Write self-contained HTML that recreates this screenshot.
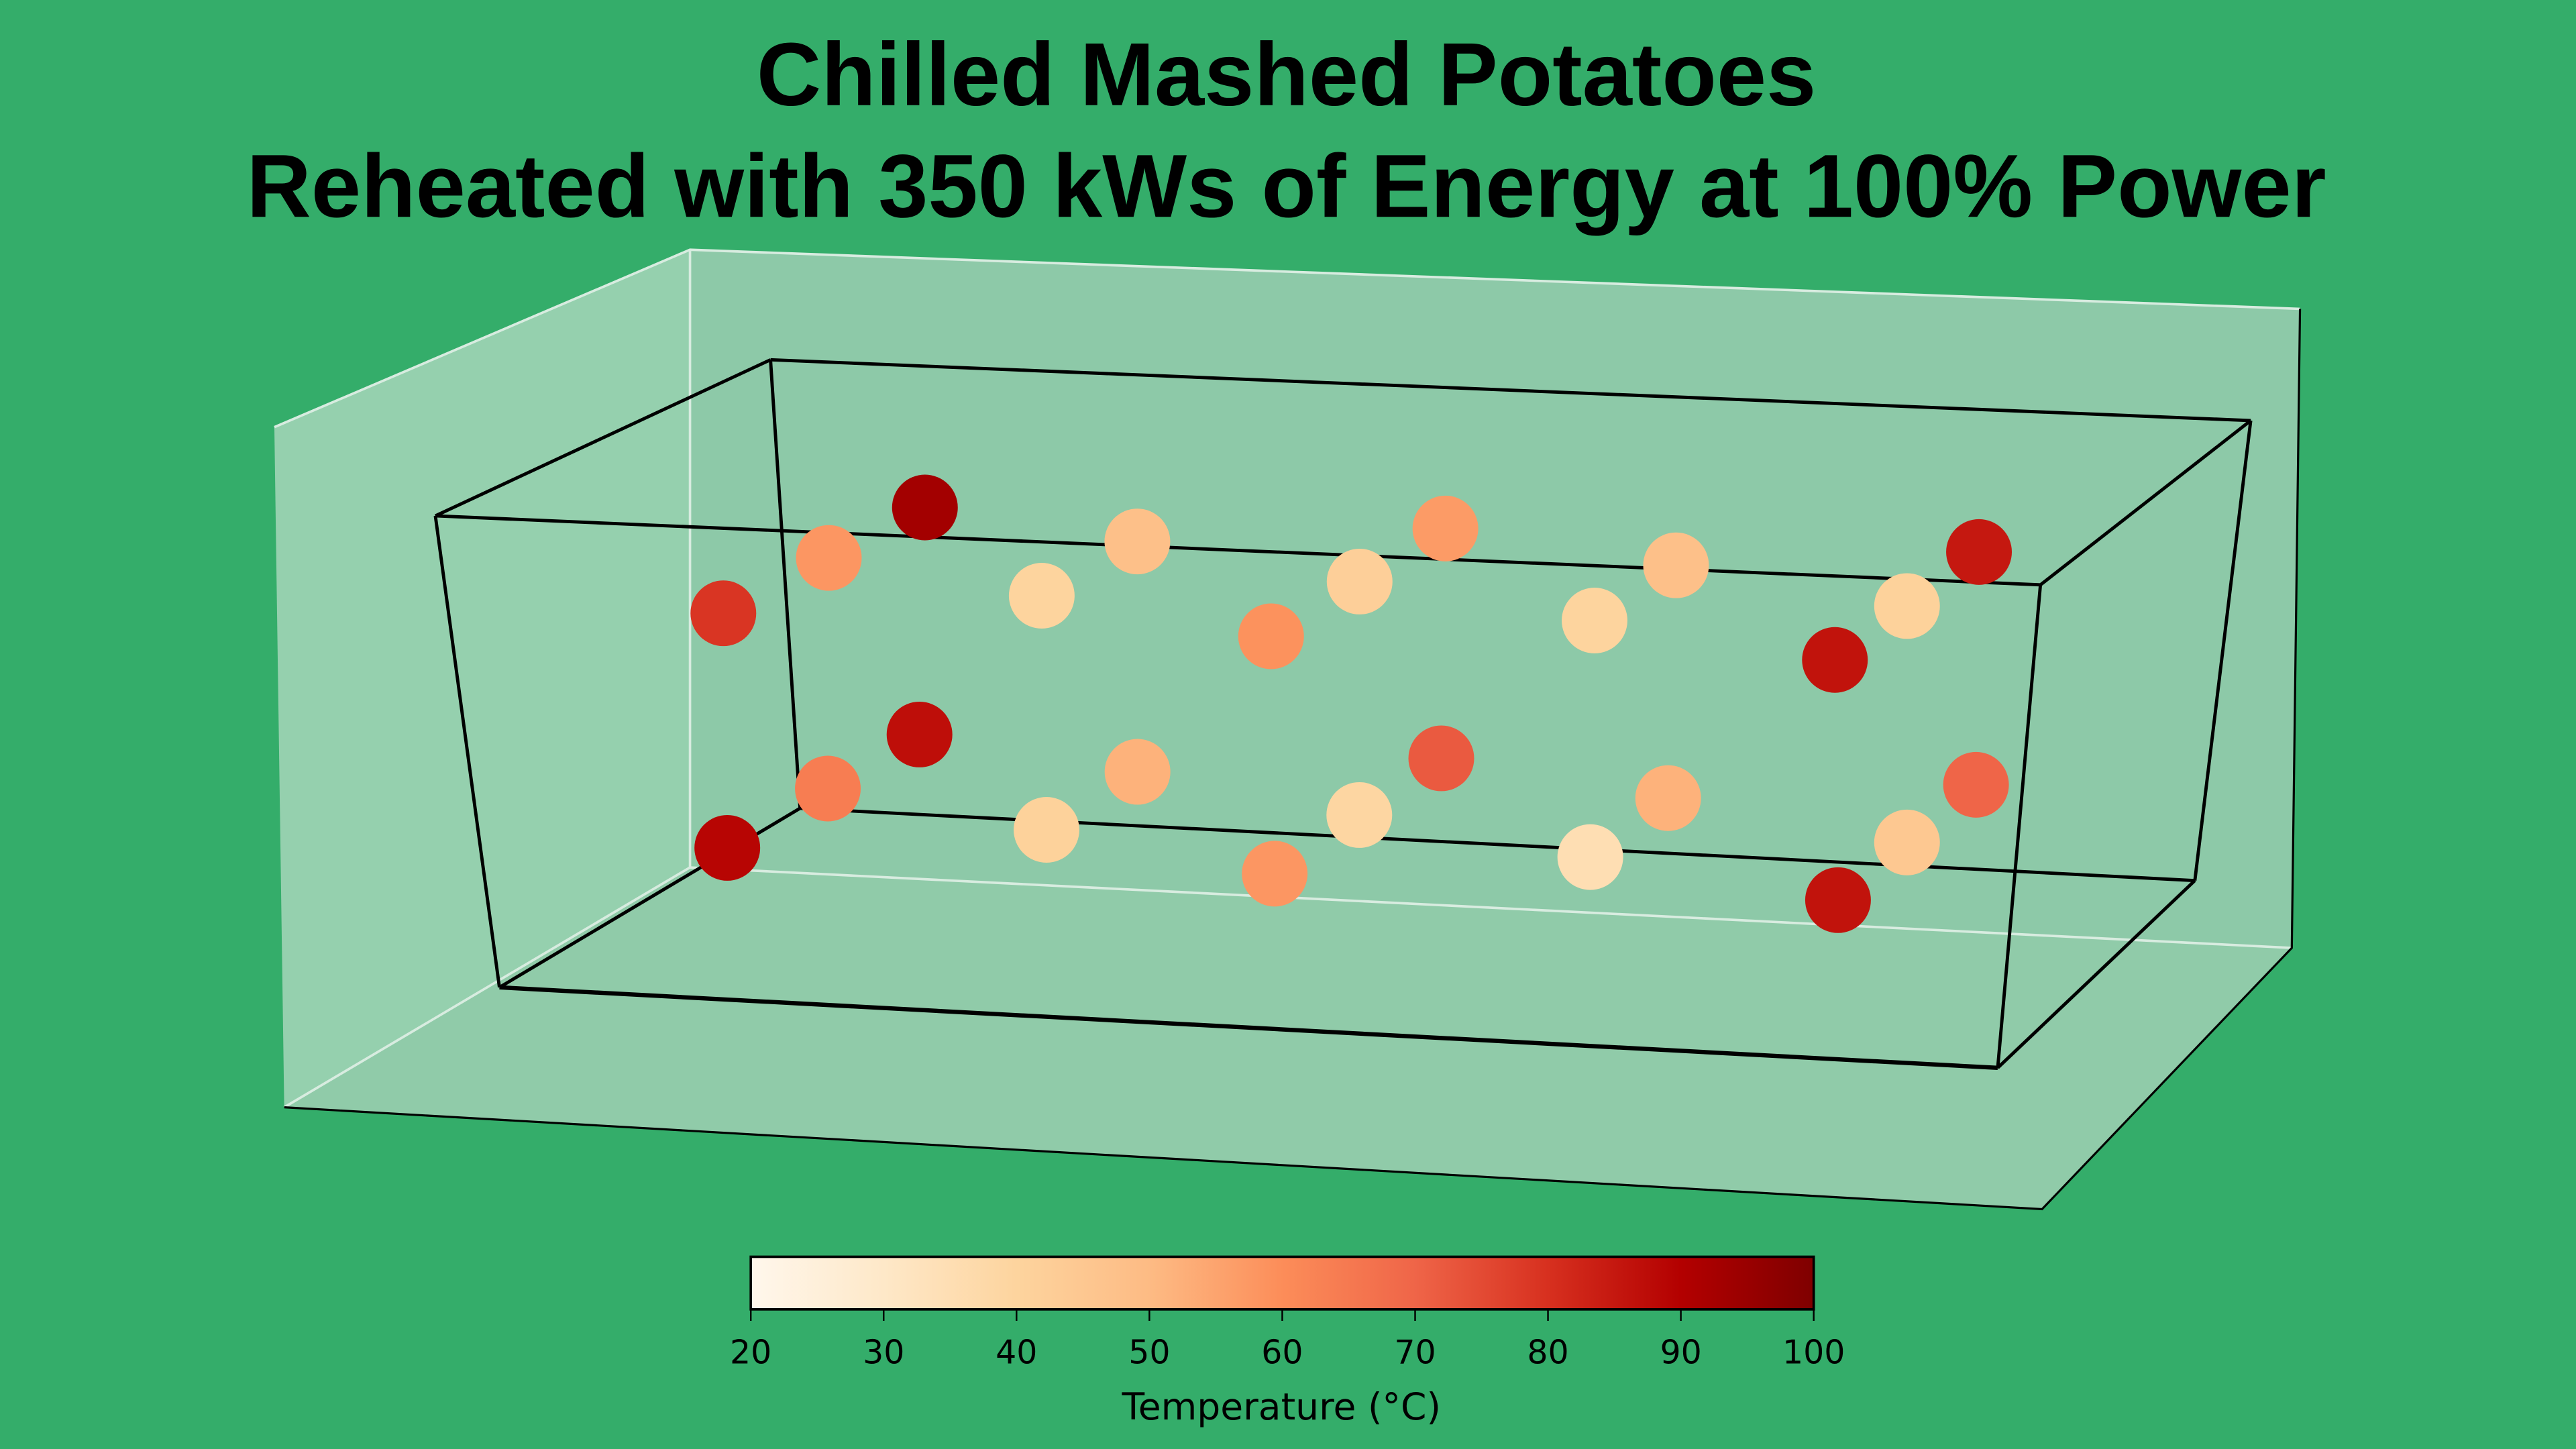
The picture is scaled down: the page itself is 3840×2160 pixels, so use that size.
<!DOCTYPE html>
<html><head><meta charset="utf-8"><style>
html,body{margin:0;padding:0;background:#34ad6a;}
svg{display:block;}
text{font-family:"DejaVu Sans","Liberation Sans",sans-serif;}
</style></head><body>
<svg id="chart" width="3840" height="2160" viewBox="0 0 1568 882" xmlns="http://www.w3.org/2000/svg">
<defs>
<linearGradient id="orrd" x1="0" x2="1" y1="0" y2="0">
<stop offset="0" stop-color="#fff7ec"/><stop offset="0.125" stop-color="#fee8c8"/><stop offset="0.25" stop-color="#fdd49e"/><stop offset="0.375" stop-color="#fdbb84"/><stop offset="0.5" stop-color="#fc8d59"/><stop offset="0.625" stop-color="#ef6548"/><stop offset="0.75" stop-color="#d7301f"/><stop offset="0.875" stop-color="#b30000"/><stop offset="1" stop-color="#7f0000"/>
</linearGradient>
</defs>
<rect width="1568" height="882" fill="#34ad6a"/>
<text x="783" y="64" text-anchor="middle" font-size="54.5" font-weight="bold" style="font-family:'Liberation Sans',sans-serif">Chilled Mashed Potatoes</text>
<text x="783" y="132" text-anchor="middle" font-size="54.5" font-weight="bold" style="font-family:'Liberation Sans',sans-serif">Reheated with 350 kWs of Energy at 100% Power</text>
<polygon points="167,260 420,152 420,528 173,674" fill="#95d0ae"/>
<polygon points="420,152 1400,188 1395,577 420,528" fill="#8dc9a8"/>
<polygon points="173,674 420,528 1395,577 1243,736" fill="#90cba9"/>
<g stroke="#d8ece0" stroke-width="1.5" fill="none">
<polyline points="167,260 420,152 1400,188"/>
<line x1="420" y1="152" x2="420" y2="528"/>
<polyline points="173,674 420,528 1395,577"/>
</g>
<g stroke="#000" stroke-width="1.3" fill="none">
<polyline points="173,674 1243,736 1395,577 1400,188"/>
</g>
<g id="box" stroke="#000" stroke-width="2" fill="none"></g>
<g id="points"></g>
<rect x="457" y="765" width="647" height="32" fill="url(#orrd)" stroke="#000" stroke-width="1.5"/>
<g id="cbticks"></g>
<text x="780" y="864" text-anchor="middle" font-size="22.5">Temperature (°C)</text>
</svg>
<script>
const xsBot = [0.125,0.125,0.125, 0.304,0.304, 0.487,0.487,0.487, 0.67,0.67, 0.86,0.86,0.86];
const xsTop = [0.137,0.137,0.137, 0.308,0.308, 0.487,0.487,0.487, 0.668,0.668, 0.848,0.848,0.848];
const ys   = [0.18,0.52,0.83, 0.36,0.69, 0.19,0.52,0.84, 0.36,0.69, 0.20,0.52,0.84];
const zTop = 0.752;
const zBot = 0.25;
const tempTop = [79,58,93,40,48,59,42,57,40,48,86,41,85];
const tempBot = [89,64,87,41,52,58,39,72,35,52,86,45,70];
const ticks = [20,30,40,50,60,70,80,90,100];

const NS='http://www.w3.org/2000/svg';
const C={"000":[304,601],"100":[1216,650],"010":[487,492],"110":[1336,536],"001":[265,314],"101":[1242,356],"011":[469,219],"111":[1370,256]};
function lerp(a,b,t){return [a[0]+(b[0]-a[0])*t,a[1]+(b[1]-a[1])*t];}
function proj(x,y,z){
  const b0=lerp(C["000"],C["100"],x), b1=lerp(C["010"],C["110"],x);
  const t0=lerp(C["001"],C["101"],x), t1=lerp(C["011"],C["111"],x);
  return lerp(lerp(b0,b1,y),lerp(t0,t1,y),z);
}
const stops=["#fff7ec","#fee8c8","#fdd49e","#fdbb84","#fc8d59","#ef6548","#d7301f","#b30000","#7f0000"];
function hex(h){return [1,3,5].map(i=>parseInt(h.substr(i,2),16));}
function cmap(v){
  let t=Math.max(0,Math.min(1,(v-20)/80))*8; let i=Math.min(7,Math.floor(t)); let f=t-i;
  const a=hex(stops[i]),b=hex(stops[i+1]);
  return 'rgb('+a.map((c,k)=>Math.round(c+(b[k]-c)*f)).join(',')+')';
}
const box=document.getElementById('box');
const edges=[["000","100"],["100","110"],["110","010"],["010","000"],["001","101"],["101","111"],["111","011"],["011","001"],["000","001"],["100","101"],["110","111"],["010","011"]];
edges.forEach(e=>{
  const l=document.createElementNS(NS,'line');
  const a=C[e[0]],b=C[e[1]];
  l.setAttribute('x1',a[0]);l.setAttribute('y1',a[1]);l.setAttribute('x2',b[0]);l.setAttribute('y2',b[1]);
  if(e[0]==="000"&&(e[1]==="100"||e[1]==="010")) l.setAttribute('stroke-width','2.6');
  
  
  box.appendChild(l);
});
const pts=document.getElementById('points');
function addPoint(x,y,z,t){
  const p=proj(x,y,z);
  const c=document.createElementNS(NS,'circle');
  c.setAttribute('cx',p[0].toFixed(1));c.setAttribute('cy',p[1].toFixed(1));c.setAttribute('r','20');
  c.setAttribute('fill',cmap(t));
  
  
  pts.appendChild(c);
}
for(let i=0;i<xsBot.length;i++){addPoint(xsBot[i],ys[i],zBot,tempBot[i]);}
for(let i=0;i<xsTop.length;i++){addPoint(xsTop[i],ys[i],zTop,tempTop[i]);}
const cb=document.getElementById('cbticks');
ticks.forEach(v=>{
  const x=457+(v-20)/80*647;
  const l=document.createElementNS(NS,'line');
  l.setAttribute('x1',x);l.setAttribute('x2',x);l.setAttribute('y1',797);l.setAttribute('y2',804);
  l.setAttribute('stroke','#000');l.setAttribute('stroke-width','1');
  
  
  cb.appendChild(l);
  const t=document.createElementNS(NS,'text');
  t.setAttribute('x',x);t.setAttribute('y',830);t.setAttribute('text-anchor','middle');t.setAttribute('font-size','20');
  t.textContent=v;
  
  
  cb.appendChild(t);
});
</script>
</body></html>
